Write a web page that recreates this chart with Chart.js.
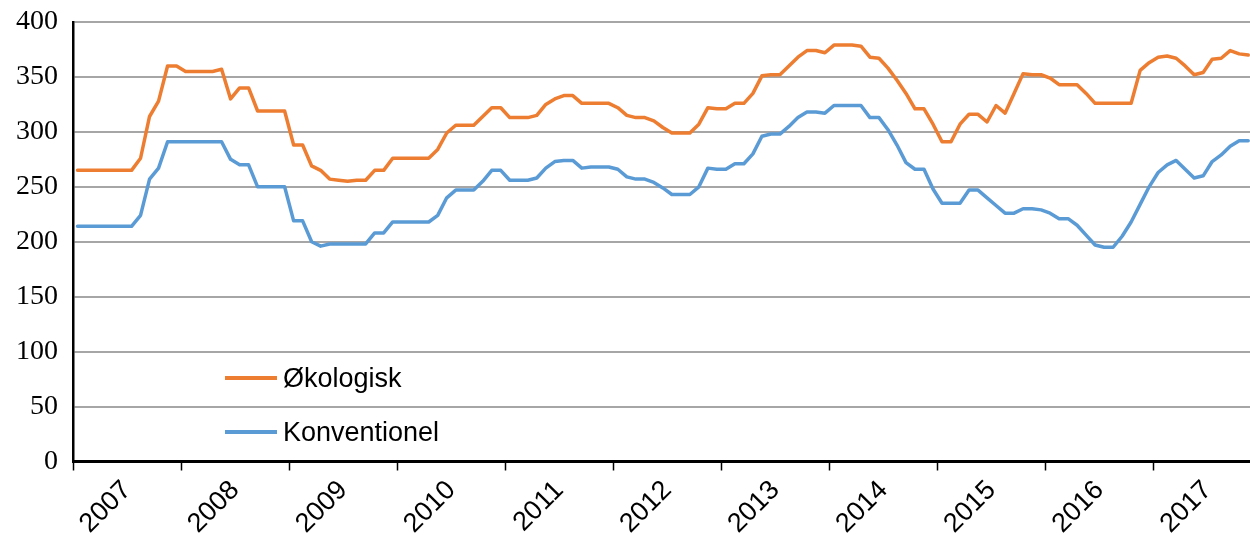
<!DOCTYPE html>
<html>
<head>
<meta charset="utf-8">
<script src="https://cdn.jsdelivr.net/npm/chart.js@4.4.1/dist/chart.umd.min.js"></script>
<style>
  html, body { margin: 0; padding: 0; background: #fff; }
  #wrap { position: relative; width: 1250px; height: 535px; }
  #legend {
    position: absolute; left: 225px; top: 351px;
    font-family: "Liberation Sans", Arial, sans-serif; font-size: 27px; color: #000;
  }
  .item { display: flex; align-items: center; height: 54px; }
  .swatch { width: 52px; height: 4px; margin-right: 6px; }
</style>
</head>
<body>
<div id="wrap">
  <canvas id="chart" width="1250" height="535"></canvas>
  <div id="legend">
    <div class="item"><span class="swatch" style="background:#ED7D31"></span>Økologisk</div>
    <div class="item"><span class="swatch" style="background:#5B9BD5"></span>Konventionel</div>
  </div>
</div>
<script>
"use strict";

// ── Data (monthly, Jan 2007 – Nov 2017) ────────────────────────────────
const yearLabels = ["2007","2008","2009","2010","2011","2012","2013","2014","2015","2016","2017"];

const okologisk = [
  265,265,265,265,265,265,265,276,314,328,360,360,   // 2007
  355,355,355,355,357,330,340,340,319,319,319,319,   // 2008
  288,288,269,265,257,256,255,256,256,265,265,276,   // 2009
  276,276,276,276,284,299,306,306,306,314,322,322,   // 2010
  313,313,313,315,325,330,333,333,326,326,326,326,   // 2011
  322,315,313,313,310,304,299,299,299,307,322,321,   // 2012
  321,326,326,335,351,352,352,360,368,374,374,372,   // 2013
  379,379,379,378,368,367,358,347,335,321,321,307,   // 2014
  291,291,307,316,316,309,324,317,335,353,352,352,   // 2015
  349,343,343,343,335,326,326,326,326,326,356,363,   // 2016
  368,369,367,360,352,354,366,367,374,371,370        // 2017
];

const konventionel = [
  214,214,214,214,214,214,214,224,257,267,291,291,
  291,291,291,291,291,275,270,270,250,250,250,250,
  219,219,200,196,198,198,198,198,198,208,208,218,
  218,218,218,218,224,240,247,247,247,255,265,265,
  256,256,256,258,267,273,274,274,267,268,268,268,
  266,259,257,257,254,249,243,243,243,250,267,266,
  266,271,271,280,296,298,298,305,313,318,318,317,
  324,324,324,324,313,313,302,288,272,266,266,248,
  235,235,235,247,247,240,233,226,226,230,230,229,
  226,221,221,215,206,197,195,195,205,218,234,250,
  263,270,274,266,258,260,273,279,287,292,292
];

const yTicks = [0, 50, 100, 150, 200, 250, 300, 350, 400];

// points sit in the middle of each month
const toPoints = arr => arr.map((v, i) => ({ x: i + 0.5, y: v }));

const line = (label, data, color) => ({
  label,
  data: toPoints(data),
  borderColor: color,
  backgroundColor: color,
  borderWidth: 3.5,
  pointRadius: 0,
  tension: 0,
  borderJoinStyle: "round",
  borderCapStyle: "round",
});

new Chart(document.getElementById("chart"), {
  type: "line",
  data: {
    datasets: [
      line("Økologisk", okologisk, "#ED7D31"),
      line("Konventionel", konventionel, "#5B9BD5"),
    ],
  },
  options: {
    responsive: false,
    animation: false,
    devicePixelRatio: 1,
    layout: { padding: { top: 22, right: 0, left: 0, bottom: 0 } },
    plugins: { legend: { display: false }, tooltip: { enabled: false } },
    scales: {
      x: {
        type: "linear",
        min: 0,
        max: 130.7,
        afterBuildTicks: scale => {
          const t = [];
          yearLabels.forEach((_, i) => { t.push({ value: i * 12 }); t.push({ value: i * 12 + 6 }); });
          scale.ticks = t;
        },
        afterFit: scale => {
          scale.height = 73.5;
          scale.paddingLeft = 0;
          scale.paddingRight = 0;
        },
        border: { color: "#000", width: 3 },
        grid: {
          drawOnChartArea: false,
          tickLength: 9,
          tickWidth: 1.5,
          tickColor: ctx => (ctx.tick && ctx.tick.value % 12 === 0 ? "#000" : "rgba(0,0,0,0)"),
        },
        ticks: {
          autoSkip: false,
          minRotation: 45,
          maxRotation: 45,
          padding: 4,
          color: "#000",
          font: { family: "'Liberation Sans', Arial, sans-serif", size: 27 },
          callback: v => (v % 12 === 6 ? yearLabels[(v - 6) / 12] : ""),
        },
      },
      y: {
        min: 0,
        max: 400,
        afterBuildTicks: scale => { scale.ticks = yTicks.map(v => ({ value: v })); },
        afterFit: scale => {
          scale.width = 73;
          scale.paddingTop = 0;
          scale.paddingBottom = 0;
        },
        border: { color: "#000", width: 2.5 },
        grid: {
          color: ctx => (ctx.tick && ctx.tick.value === 0 ? "#000" : "#a6a6a6"),
          lineWidth: 2,
          drawTicks: false,
        },
        ticks: {
          padding: 15,
          color: "#000",
          font: { family: "'Liberation Serif', 'Times New Roman', serif", size: 28 },
        },
      },
    },
  },
});
</script>
</body>
</html>
